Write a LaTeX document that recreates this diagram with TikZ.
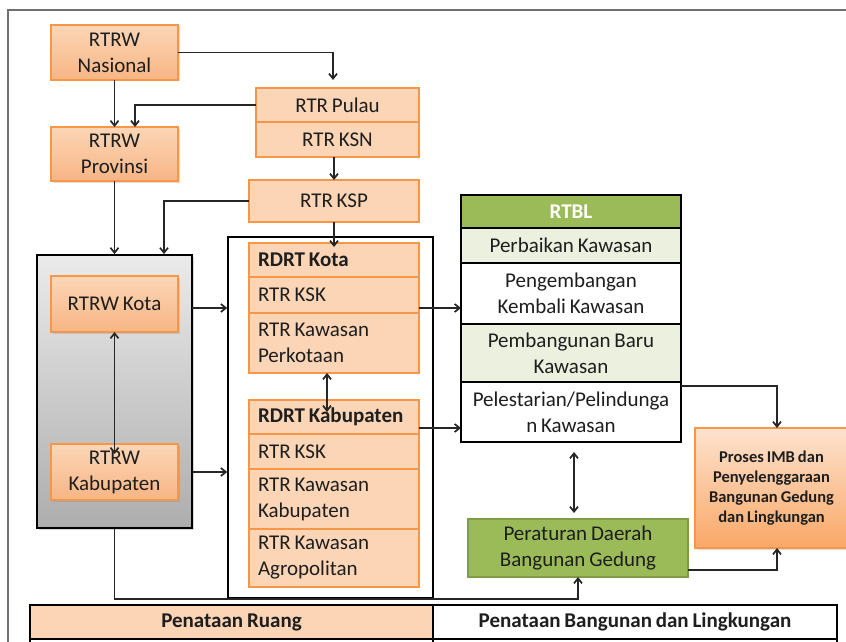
\documentclass[tikz,border=0pt]{standalone}
\usepackage{fontspec}
\setmainfont{Carlito}[WordSpace=0.8]
\usetikzlibrary{arrows.meta,shadows,calc}
\definecolor{orB}{HTML}{F79646}
\definecolor{orTop}{HTML}{FBD6B6}
\definecolor{orBot}{HTML}{F8B584}
\definecolor{rowF}{HTML}{FBD5B5}
\definecolor{grnH}{HTML}{9BBB59}
\definecolor{grnL}{HTML}{EBF1DE}
\definecolor{grnB}{HTML}{7F9C45}
\definecolor{imbTop}{HTML}{FDE3CF}
\definecolor{imbBot}{HTML}{F9A766}
\definecolor{txt}{HTML}{1E1E1E}
\definecolor{frameG}{HTML}{707070}
\newcommand\mainfs{\fontsize{21}{26}\selectfont}
\newcommand\smallfs{\fontsize{16.5}{20}\selectfont}
\begin{document}
\begin{tikzpicture}[x=1pt,y=-1pt,
  sz/.style 2 args={minimum width=#1pt, minimum height=#2pt},
  base/.style={inner sep=0pt, outer sep=0pt, align=center, text=txt, font=\mainfs},
  ogbox/.style={base, draw=orB, line width=1.4pt, top color=orTop, bottom color=orBot,
    drop shadow={opacity=0.25, shadow xshift=1.5pt, shadow yshift=-1.5pt}},
  flatbox/.style={base, draw=orB, line width=1.4pt, fill=rowF},
  rowbox/.style={base, draw=orB, line width=1.4pt, fill=rowF, align=flush left, inner xsep=9pt, text width=152pt},
  graybox/.style={inner sep=0pt, draw=black, line width=1.8pt, top color=black!8, bottom color=black!32,
    drop shadow={opacity=0.3, shadow xshift=1.5pt, shadow yshift=-1.5pt}},
  framebox/.style={inner sep=0pt, draw=black, line width=1.5pt},
  tbox/.style={base, draw=black, line width=1.5pt},
  hdr/.style={tbox, fill=grnH, text=white, font=\mainfs\bfseries},
  imbbox/.style={base, draw=orB, line width=1.4pt, top color=imbTop, bottom color=imbBot, font=\smallfs\bfseries,
    drop shadow={opacity=0.25, shadow xshift=1.5pt, shadow yshift=-1.5pt}},
  greenbox/.style={base, draw=grnB, line width=1.4pt, fill=grnH},
  tcell/.style={base, draw=black, line width=1.9pt, font=\mainfs\bfseries},
  arr/.style={draw=black!85, line width=1.7pt, -{Straight Barb[length=5pt,width=8pt]}},
  darr/.style={draw=black!85, line width=1.7pt, {Straight Barb[length=5pt,width=8pt]}-{Straight Barb[length=5pt,width=8pt]}}
]
\path[use as bounding box, clip] (0,0) rectangle (846,642);
\fill[white] (0,0) rectangle (846,642);
% outer frame
\coordinate (fl) at (8,650);
\coordinate (ftl) at (8,10);
\coordinate (ftr) at (850,10);
\draw[frameG, line width=2pt] (fl) -- (ftl) -- (ftr);

% left column
\node[ogbox, sz={127}{55}] (nas) at (114.5,52.5) {RTRW\\Nasional};
\node[ogbox, sz={127}{54}] (prov) at (114.5,154) {RTRW\\Provinsi};
\node[graybox, sz={155}{273}] (gray) at (114.5,391.5) {};
\node[ogbox, sz={127}{56}] (kota) at (114.5,304) {RTRW Kota};
\node[ogbox, sz={127}{56}] (kab) at (114.5,472) {RTRW\\Kabupaten};

% middle column
\node[flatbox, sz={163}{34}] (pulau) at (337.5,105) {RTR Pulau};
\node[flatbox, sz={163}{35}] (ksn) at (337.5,139.5) {RTR KSN};
\node[flatbox, sz={170}{42}] (ksp) at (334,201) {RTR KSP};
\node[framebox, sz={205}{361}] (mid) at (330.5,417.5) {};
\node[rowbox, sz={170}{34}, font=\mainfs\bfseries] (rk1) at (334,260) {RDRT Kota};
\node[rowbox, sz={170}{36}] (rk2) at (334,295) {RTR KSK};
\node[rowbox, sz={170}{60}] (rk3) at (334,343) {RTR Kawasan\\Perkotaan};
\node[rowbox, sz={170}{34}, font=\mainfs\bfseries] (rb1) at (334,417) {RDRT Kabupaten};
\node[rowbox, sz={170}{35}] (rb2) at (334,451.5) {RTR KSK};
\node[rowbox, sz={170}{60}] (rb3) at (334,499) {RTR Kawasan\\Kabupaten};
\node[rowbox, sz={170}{58}] (rb4) at (334,558) {RTR Kawasan\\Agropolitan};

% right column
\node[hdr, sz={220}{33}] (rtbl) at (571,211.5) {RTBL};
\node[tbox, fill=grnL, sz={220}{35}] (t1) at (571,245.5) {Perbaikan Kawasan};
\node[tbox, fill=white, sz={220}{61}] (t2) at (571,293.5) {Pengembangan\\Kembali Kawasan};
\node[tbox, fill=grnL, sz={220}{58}] (t3) at (571,353) {Pembangunan Baru\\Kawasan};
\node[tbox, fill=white, sz={220}{60}] (t4) at (571,412) {Pelestarian/Pelindunga\\n Kawasan};
\node[imbbox, sz={153}{120}] (imb) at (771.5,488) {Proses IMB dan\\Penyelenggaraan\\Bangunan Gedung\\dan Lingkungan};
\node[greenbox, sz={220}{58}] (perda) at (578,548) {Peraturan Daerah\\Bangunan Gedung};

% bottom table
\node[tcell, fill=rowF, sz={403}{34}] (ruang) at (231.5,622) {Penataan Ruang};
\node[tcell, fill=white, sz={404}{34}] (bangun) at (635,622) {Penataan Bangunan dan Lingkungan};
\node[tcell, fill=white, sz={403}{34}] (ruang2) at (231.5,656) {};
\node[tcell, fill=white, sz={404}{34}] (bangun2) at (635,656) {};

% connectors
\coordinate (c1) at (333,80);
\draw[arr] (nas.east) -| (c1);
\draw[arr] (nas.south) -- (prov.north);
\draw[arr] (pulau.west) -| ([xshift=20.5pt]prov.north);
\draw[arr] (ksn.south -| ksp.north) -- (ksp.north);
\draw[arr] (prov.south) -- (gray.north);
\draw[arr] (ksp.west) -| ([xshift=49.5pt]gray.north);
\draw[arr] (ksp.south) -- ([yshift=-4pt]rk1.north);
\coordinate (c8) at (192,308);
\draw[arr] (c8) -- (c8 -| mid.west);
\draw[arr] (gray.east |- kab.east) -- (mid.west |- kab.east);
\draw[darr] (kota.south) -- ([yshift=-10pt]kab.north);
\draw[darr] ([xshift=-7pt]rk3.south) -- ([xshift=-7pt,yshift=-12pt]rb1.north);
\coordinate (c12) at (419,308);
\draw[arr] (c12) -- (c12 -| t2.west);
\coordinate (c13) at (419,428);
\draw[arr] (c13) -- (c13 -| t4.west);
\draw[arr] ([yshift=-4pt]t4.north east) -| ([xshift=5.5pt]imb.north);
\coordinate (c15a) at (574,452);
\coordinate (c15b) at (574,513);
\draw[darr] (c15a) -- (c15b);
\draw[arr] ([yshift=-22pt]perda.east) -| ([xshift=5.5pt]imb.south);
\draw[arr] (gray.south) |- (perda.south |- mid.south) -- (perda.south);
\end{tikzpicture}
\end{document}
